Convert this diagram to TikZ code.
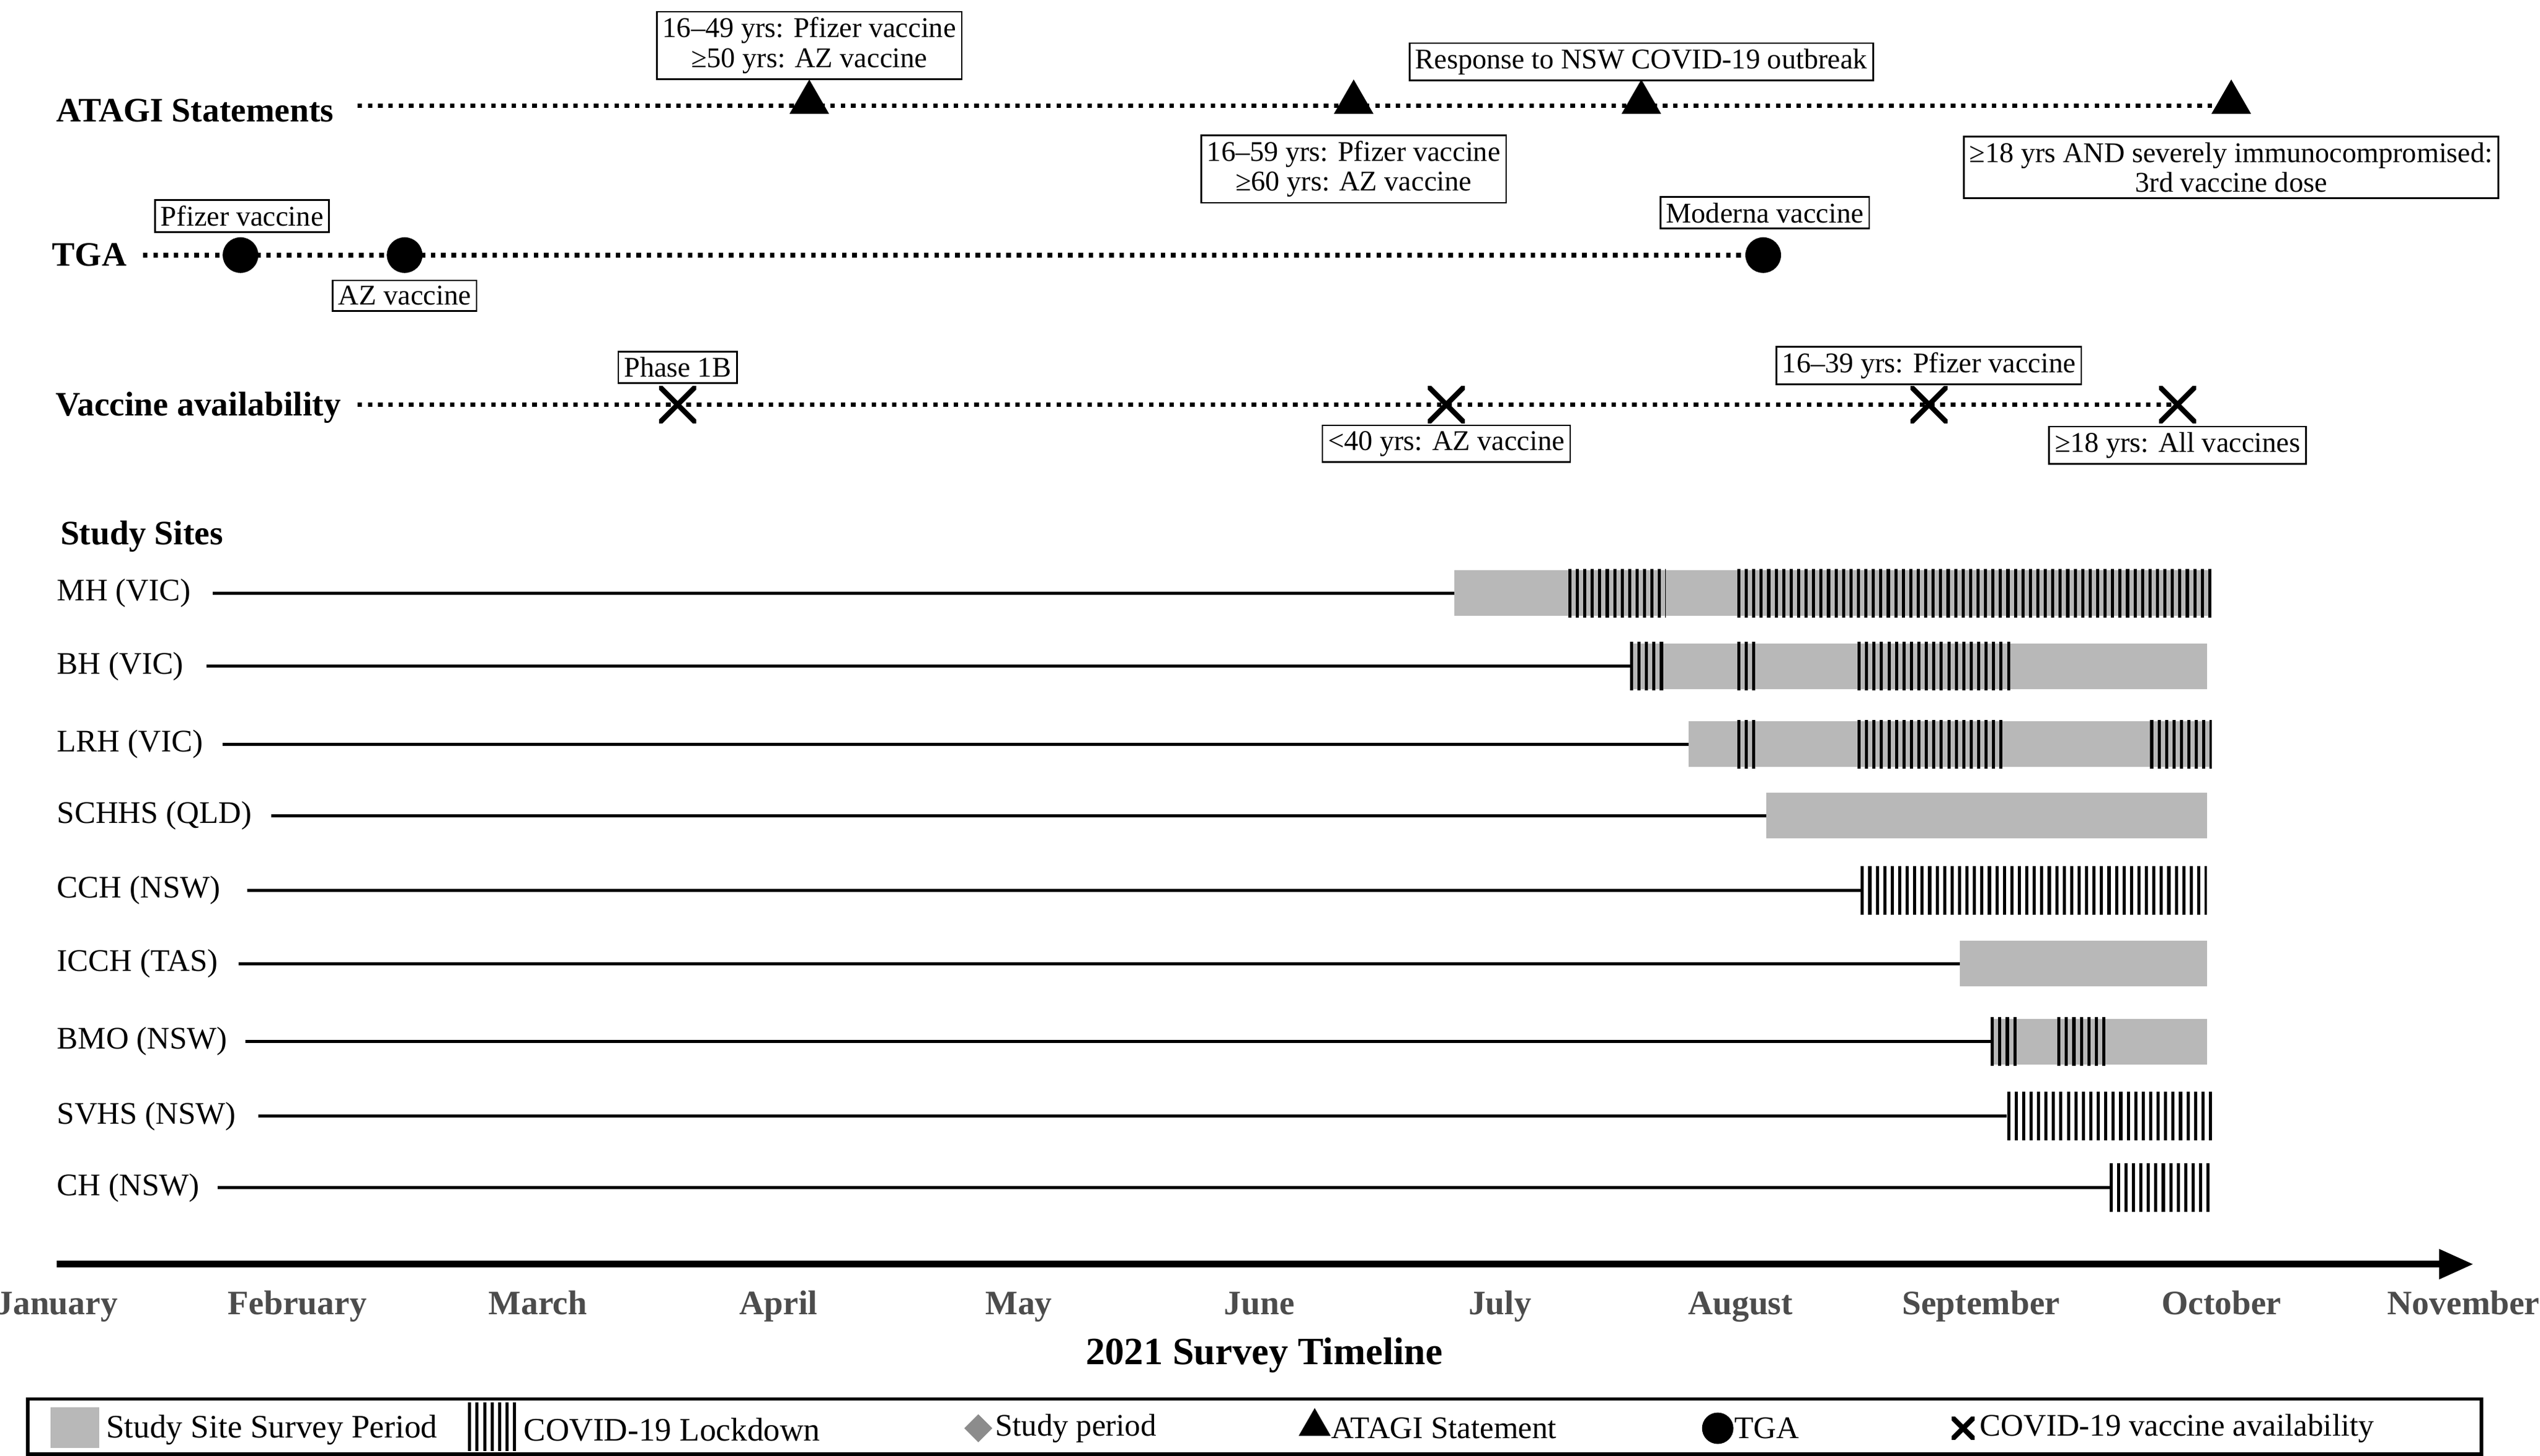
\documentclass[tikz,border=0pt]{standalone}
\usepackage{fontspec}
\setmainfont{Liberation Serif}
\usetikzlibrary{shapes.geometric,arrows.meta}
\begin{document}
\begin{tikzpicture}[x=0.02cm,y=-0.02cm,
  lbl/.style={font=\fontsize{11}{12}\selectfont},
  leg/.style={font=\fontsize{11.5}{12}\selectfont,anchor=west,inner sep=0pt},
  boxlbl/.style={draw,line width=0.6pt,inner sep=2pt,align=center,font=\fontsize{10}{10.5}\selectfont},
  head/.style={font=\fontsize{12}{13}\selectfont\bfseries},
  month/.style={font=\fontsize{12}{13}\selectfont\bfseries,text=black!70,anchor=base},
  dotline/.style={line width=1.6pt,dotted},
  siteline/.style={line width=1.1pt},
  tri/.style={fill=black,regular polygon,regular polygon sides=3,inner sep=0pt,minimum size=16pt},
  dot/.style={fill=black,circle,inner sep=0pt,minimum size=12.5pt},
  xmark/.style={inner sep=0pt,minimum size=13pt,path picture={\draw[line width=1.8pt] (path picture bounding box.south west)--(path picture bounding box.north east) (path picture bounding box.north west)--(path picture bounding box.south east);}},
  grayb/.style={fill=black!28,draw=none}]
\useasboundingbox (0,0) rectangle (1563,896);
\newcommand\hatchbar[3]{\begin{scope}\clip (#1,#3-15) rectangle (#2,#3+15);
  \foreach \i in {0,...,70}{\draw[line width=1.1pt] (#1+1+\i*4.6,#3-15) -- (#1+1+\i*4.6,#3+15);}\end{scope}}
% ATAGI
\node[head] (atagi) at (120,68) {ATAGI Statements};
\coordinate (a0) at (220,65); \coordinate (a1) at (1375,65);
\draw[dotline] (a0) -- (a1);
\foreach \n/\x in {t1/498,t2/833,t3/1010,t4/1373}{\node[tri] (\n) at (\x,63) {};}
\node[boxlbl] (b1) at (498,28) {16–49 yrs: Pfizer vaccine\\≥50 yrs: AZ vaccine};
\node[boxlbl] (b2) at (1010,38) {Response to NSW COVID-19 outbreak};
\node[boxlbl] (b3) at (833,104) {16–59 yrs: Pfizer vaccine\\≥60 yrs: AZ vaccine};
\node[boxlbl] (b4) at (1373,103) {≥18 yrs AND severely immunocompromised:\\3rd vaccine dose};
% TGA
\node[head] (tga) at (55,157) {TGA};
\coordinate (g0) at (88,157); \coordinate (g1) at (1085,157);
\draw[dotline] (g0) -- (g1);
\foreach \n/\x in {c1/148,c2/249,c3/1085}{\node[dot] (\n) at (\x,157) {};}
\node[boxlbl] (p1) at (149,133) {Pfizer vaccine};
\node[boxlbl] (p2) at (249,182) {AZ vaccine};
\node[boxlbl] (p3) at (1086,131) {Moderna vaccine};
% Vaccine availability
\node[head] (va) at (122,251) {Vaccine availability};
\coordinate (v0) at (220,249); \coordinate (v1) at (1340,249);
\draw[dotline] (v0) -- (v1);
\foreach \n/\x in {x1/417,x2/890,x3/1187,x4/1340}{\node[xmark] (\n) at (\x,249) {};}
\node[boxlbl] (q1) at (417,226) {Phase 1B};
\node[boxlbl] (q2) at (890,273) {<40 yrs: AZ vaccine};
\node[boxlbl] (q3) at (1187,225) {16–39 yrs: Pfizer vaccine};
\node[boxlbl] (q4) at (1340,274) {≥18 yrs: All vaccines};
% Study sites
\node[head,anchor=west] (ss) at (31,330) {Study Sites};
\foreach \n/\t/\y/\ls/\le in {s1/MH (VIC)/365/131/895, s2/BH (VIC)/410/127/1003, s3/LRH (VIC)/458/137/1039, s4/SCHHS (QLD)/502/167/1087, s5/CCH (NSW)/548/152/1145, s6/ICCH (TAS)/593/147/1206, s7/BMO (NSW)/641/151/1225, s8/SVHS (NSW)/687/159/1235, s9/CH (NSW)/731/134/1298}{
  \node[lbl,anchor=west] (\n) at (29,\y) {\t};
  \coordinate (\n e) at (\le,\y);
  \draw[siteline] (\ls,\y) -- (\n e);
}
\fill[grayb] (895,351) rectangle (1360,379);
\hatchbar{965}{1025}{365}\hatchbar{1069}{1361}{365}
\fill[grayb] (1003,396) rectangle (1358,424);
\hatchbar{1003}{1025}{410}\hatchbar{1069}{1082}{410}\hatchbar{1143}{1237}{410}
\fill[grayb] (1039,444) rectangle (1360,472);
\hatchbar{1069}{1082}{458}\hatchbar{1143}{1233}{458}\hatchbar{1323}{1361}{458}
\fill[grayb] (1087,488) rectangle (1358,516);
\hatchbar{1145}{1358}{548}
\fill[grayb] (1206,579) rectangle (1358,607);
\fill[grayb] (1225,627) rectangle (1358,655);
\hatchbar{1225}{1241}{641}\hatchbar{1266}{1296}{641}
\hatchbar{1235}{1362}{687}
\hatchbar{1298}{1362}{731}
% axis
\coordinate (ax0) at (35,778); \coordinate (ax1) at (1522,778);
\draw[line width=2.3pt,-{Triangle[length=12pt,width=10pt]}] (ax0) -- (ax1);
\foreach \m/\x in {January/35,February/183,March/331,April/479,May/627,June/775,July/923,August/1071,September/1219,October/1367,November/1516}{\node[month] (m\m) at (\x,809) {\m};}
\node[font=\fontsize{13.5}{15}\selectfont\bfseries] (title) at (778,834) {2021 Survey Timeline};
% legend
\draw[line width=1.2pt] (17,861) rectangle (1527,895);
\fill[grayb] (31,866) rectangle (61,891);
\node[leg] (l1) at (65,880) {Study Site Survey Period};
\hatchbar{288}{320}{878}
\node[leg] (l2) at (322,880) {COVID-19 Lockdown};
\node[fill=black!45,diamond,inner sep=0pt,minimum size=10pt] (ld) at (602,879) {};
\node[leg,font=\fontsize{11}{12}\selectfont] (l3) at (612,879) {Study period};
\node[tri,minimum size=13pt] (lt) at (809,878) {};
\node[leg,font=\fontsize{11}{12}\selectfont] (l4) at (819,879) {ATAGI Statement};
\node[dot,minimum size=11pt] (lc) at (1057,879) {};
\node[leg,font=\fontsize{11}{12}\selectfont] (l5) at (1067,879) {TGA};
\node[xmark,minimum size=8pt] (lx) at (1208,879) {};
\node[leg,font=\fontsize{11}{12}\selectfont] (l6) at (1218,879) {COVID-19 vaccine availability};
\end{tikzpicture}
\end{document}
